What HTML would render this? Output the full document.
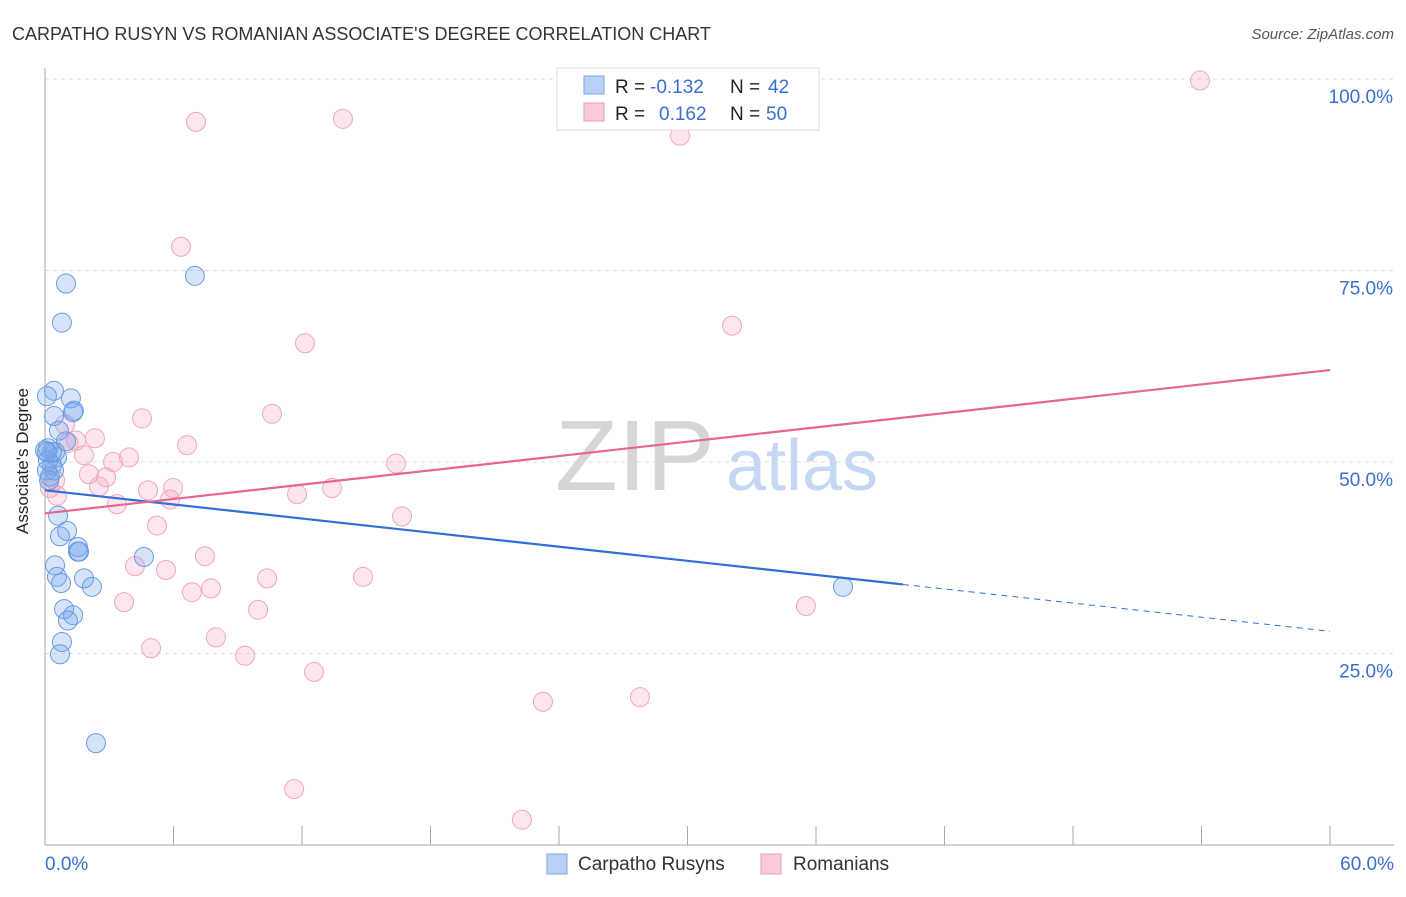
<!DOCTYPE html>
<html><head><meta charset="utf-8"><style>
body{margin:0;background:#fff;font-family:"Liberation Sans",sans-serif}
svg text{font-family:"Liberation Sans",sans-serif}
</style></head><body>
<svg id="chart" width="1406" height="892" xmlns="http://www.w3.org/2000/svg">
<text x="12" y="40" font-size="18" fill="#333">CARPATHO RUSYN VS ROMANIAN ASSOCIATE'S DEGREE CORRELATION CHART</text>
<text x="1394" y="39" font-size="15" fill="#555" text-anchor="end" font-style="italic">Source: ZipAtlas.com</text>
<g>
<text x="635" y="490" font-size="100" fill="#d6d6d6" text-anchor="middle" font-family="Liberation Serif,serif" textLength="160" lengthAdjust="spacingAndGlyphs">ZIP</text>
<text x="802" y="490" font-size="72" fill="#c5d7f2" text-anchor="middle">atlas</text>
</g>
<g id="grid"></g><g id="axes"></g><g id="pts"></g><g id="lines"></g>
<text x="22" y="455" font-size="17" fill="#222" text-anchor="middle" transform="rotate(-90 28 455)">Associate's Degree</text>
<g>
<rect x="557" y="68" width="262" height="62" fill="#fff" stroke="#ddd"/>
<rect x="584" y="76" width="20" height="18" fill="#b8d0f5" stroke="#7aa6e6"/>
<text x="615" y="93" font-size="19" fill="#222">R =</text><text x="650" y="93" font-size="19" fill="#3a6fd0">-0.132</text>
<text x="730" y="93" font-size="19" fill="#222">N =</text><text x="768" y="93" font-size="19" fill="#3a6fd0">42</text>
<rect x="584" y="103" width="20" height="18" fill="#fccbd9" stroke="#ef9ab5"/>
<text x="615" y="120" font-size="19" fill="#222">R =</text><text x="659" y="120" font-size="19" fill="#3a6fd0">0.162</text>
<text x="730" y="120" font-size="19" fill="#222">N =</text><text x="766" y="120" font-size="19" fill="#3a6fd0">50</text>
</g>
<g>
<rect x="547" y="854" width="20" height="20" fill="#b8d0f5" stroke="#7aa6e6"/>
<text x="578" y="870" font-size="19" fill="#333">Carpatho Rusyns</text>
<rect x="761" y="854" width="20" height="20" fill="#fccbd9" stroke="#ef9ab5"/>
<text x="793" y="870" font-size="19" fill="#333">Romanians</text>
</g>
<text x="45" y="870" font-size="19" fill="#3a6fd0">0.0%</text>
<text x="1394" y="870" font-size="19" fill="#3a6fd0" text-anchor="end">60.0%</text>
</svg>
<script>
const yTicks=[25,50,75,100];
const yTickLabels=["25.0%","50.0%","75.0%","100.0%"];
const blueX=[0.98,0.79,7.0,0.42,0.09,1.21,1.35,1.31,0.42,0.65,0.98,0.14,0.47,0.14,0.56,0.33,0.09,0.42,0.23,0.61,1.03,0.70,1.54,1.54,1.59,0.47,0.56,0.75,1.82,2.19,4.62,0.89,1.31,1.07,0.79,0.70,2.38,37.26,0.19,0.33,0.0,0.09];
const blueY=[73.3,68.2,74.3,59.3,58.6,58.3,56.7,56.5,56.0,54.1,52.7,51.8,51.3,50.2,50.6,49.6,48.9,48.9,48.1,43.0,41.0,40.3,38.9,38.3,38.3,36.5,35.0,34.2,34.8,33.7,37.6,30.8,30.0,29.3,26.5,24.9,13.3,33.7,47.6,51.3,51.5,51.3];
const pinkX=[53.93,13.91,7.05,29.65,6.35,32.08,12.14,10.60,4.53,0.93,2.33,1.45,6.63,1.82,3.92,3.18,16.39,2.05,2.85,2.52,4.81,5.98,11.77,13.40,5.84,3.36,0.56,5.23,16.67,7.47,4.20,5.65,10.37,14.85,7.75,6.86,3.69,9.95,35.53,7.98,4.95,9.34,12.56,23.25,27.78,11.63,22.27,0.47,0.23,1.1];
const pinkY=[99.8,94.8,94.4,92.6,78.1,67.8,65.5,56.3,55.7,54.9,53.1,52.8,52.2,50.9,50.6,50.0,49.8,48.4,48.0,46.8,46.3,46.6,45.8,46.6,45.1,44.5,45.6,41.7,42.9,37.7,36.4,35.9,34.8,35.0,33.5,33.0,31.7,30.7,31.2,27.1,25.7,24.7,22.6,18.7,19.3,7.3,3.3,47.6,46.6,52.5];
const blueTrend=[46.3,27.9]; const blueSolidEnd=40.06;
const pinkTrend=[43.3,62.0];
const NS="http://www.w3.org/2000/svg";
const X0=45,X1=1330,Y0=845,Y100=79;
const sx=v=>X0+(v/60)*(X1-X0);
const sy=v=>Y0-(v/100)*(Y0-Y100);
function mk(t,a,p){const e=document.createElementNS(NS,t);for(const k in a)e.setAttribute(k,a[k]);p.appendChild(e);return e;}
const grid=document.getElementById('grid'),axes=document.getElementById('axes'),pts=document.getElementById('pts'),lines=document.getElementById('lines');
yTicks.forEach((t,i)=>{
 const l=mk('line',{x1:X0,x2:1394,y1:sy(t),y2:sy(t),stroke:'#ddd','stroke-dasharray':'4,4'},grid);
 
 
 const tx=mk('text',{x:1393,y:sy(t)+24,'font-size':19,fill:'#3a6fd0','text-anchor':'end'},grid);
 tx.textContent=yTickLabels[i];
 
 
});
const ax=mk('line',{x1:X0,x2:X0,y1:68,y2:Y0,stroke:'#aaa'},axes);


const bx=mk('line',{x1:X0,x2:1394,y1:Y0,y2:Y0,stroke:'#aaa'},axes);


for(let i=0;i<=10;i++){const t=mk('line',{x1:sx(i*6),x2:sx(i*6),y1:826,y2:Y0,stroke:'#aaa'},axes);
 
 }
pinkX.forEach((v,i)=>{const c=mk('circle',{cx:sx(v),cy:sy(pinkY[i]),r:9.5,fill:'rgba(246,168,195,0.3)',stroke:'#efa7bf','stroke-width':1},pts);
 
 });
blueX.forEach((v,i)=>{const c=mk('circle',{cx:sx(v),cy:sy(blueY[i]),r:9.5,fill:'rgba(120,165,235,0.3)',stroke:'#6a9be0','stroke-width':1},pts);
 
 });
const bAt=x=>blueTrend[0]+(blueTrend[1]-blueTrend[0])*x/60;
const b1=mk('line',{x1:sx(0),y1:sy(bAt(0)),x2:sx(blueSolidEnd),y2:sy(bAt(blueSolidEnd)),stroke:'#2f6fd6','stroke-width':2.2},lines);


const b2=mk('line',{x1:sx(blueSolidEnd),y1:sy(bAt(blueSolidEnd)),x2:sx(60),y2:sy(bAt(60)),stroke:'#2f6fd6','stroke-width':1,'stroke-dasharray':'6,5'},lines);


const p1=mk('line',{x1:sx(0),y1:sy(pinkTrend[0]),x2:sx(60),y2:sy(pinkTrend[1]),stroke:'#e5678f','stroke-width':2.2},lines);


</script>
</body></html>
